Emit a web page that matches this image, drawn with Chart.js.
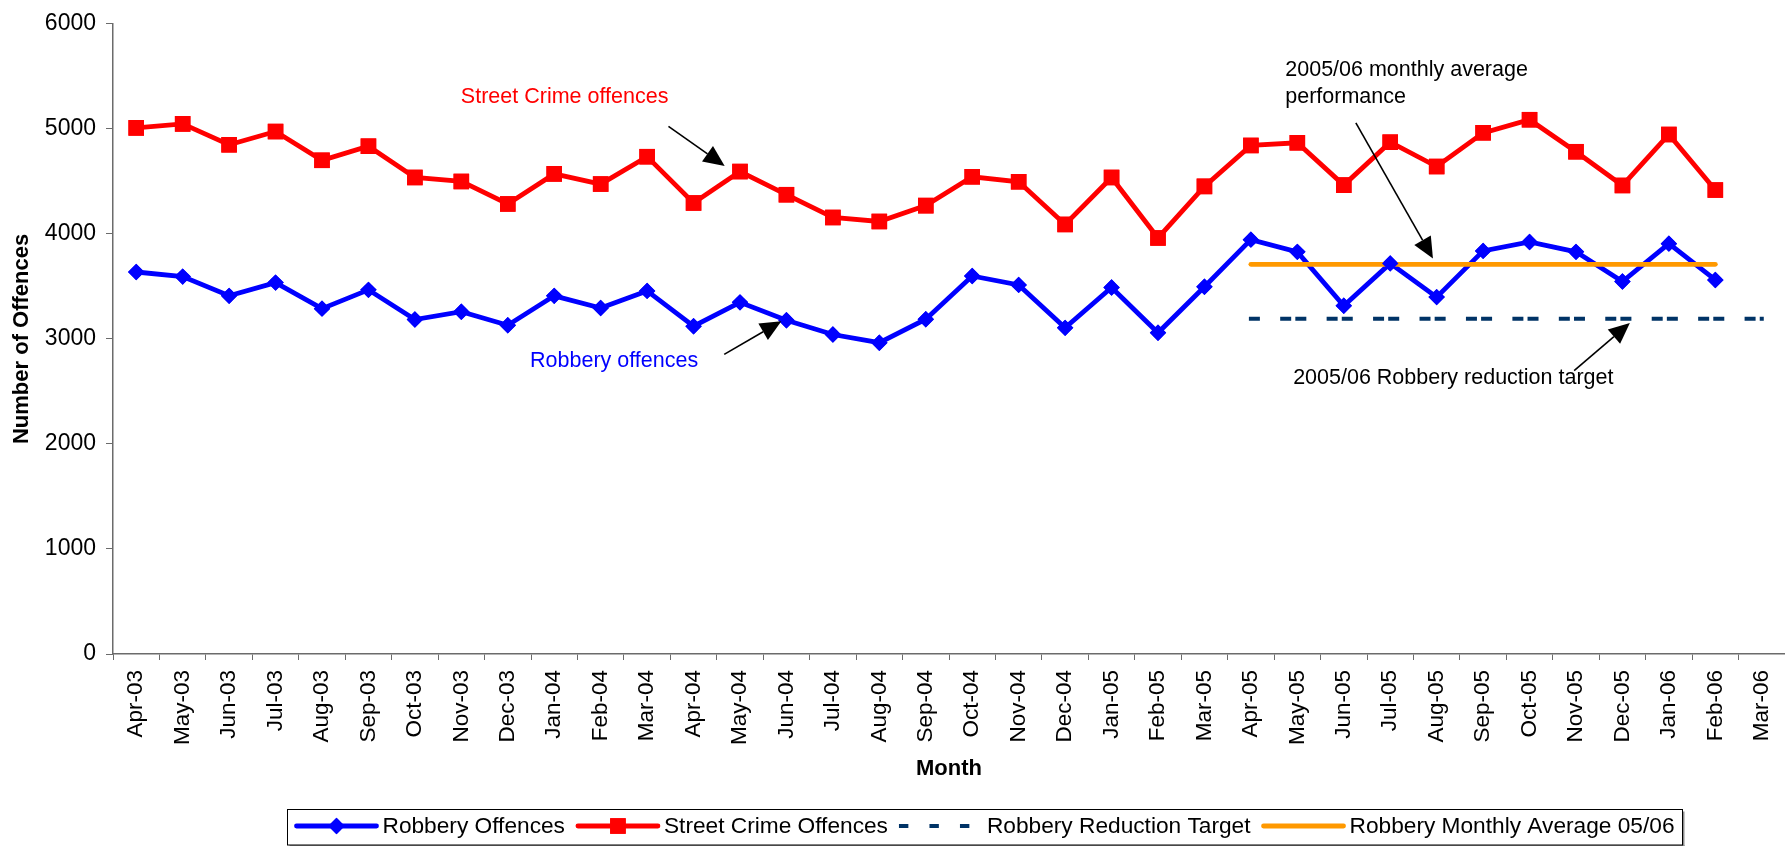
<!DOCTYPE html>
<html>
<head>
<meta charset="utf-8">
<title>Robbery and Street Crime Offences</title>
<script src="https://cdn.jsdelivr.net/npm/chart.js@4.4.0/dist/chart.umd.min.js"></script>
<style>
  html, body { margin: 0; padding: 0; background: #fff; }
  #wrap { width: 1785px; height: 846px; }
</style>
</head>
<body>
<div id="wrap"><canvas id="offencesChart" width="1785" height="846"></canvas></div>
<script>
var months = ['Apr-03','May-03','Jun-03','Jul-03','Aug-03','Sep-03','Oct-03','Nov-03','Dec-03',
  'Jan-04','Feb-04','Mar-04','Apr-04','May-04','Jun-04','Jul-04','Aug-04','Sep-04','Oct-04','Nov-04','Dec-04',
  'Jan-05','Feb-05','Mar-05','Apr-05','May-05','Jun-05','Jul-05','Aug-05','Sep-05','Oct-05','Nov-05','Dec-05',
  'Jan-06','Feb-06','Mar-06'];

var robbery = [3637, 3593, 3410, 3536, 3288, 3467, 3184, 3259, 3130,
  3410, 3294, 3457, 3121, 3348, 3178, 3042, 2964, 3187, 3599, 3514, 3105,
  3489, 3058, 3497, 3945, 3829, 3316, 3719, 3398, 3838, 3923, 3829, 3546,
  3907, 3561, null];

var streetCrime = [5009, 5047, 4848, 4974, 4700, 4835, 4537, 4499, 4285,
  4571, 4474, 4735, 4294, 4593, 4373, 4156, 4118, 4269, 4543, 4496, 4090,
  4537, 3961, 4452, 4842, 4867, 4464, 4873, 4641, 4962, 5087, 4782, 4461,
  4946, 4417, null];

// 2005/06 target runs Apr-05 .. Mar-06, the average Apr-05 .. Feb-06
var reductionTarget = [null, null, null, null, null, null, null, null, null,
  null, null, null, null, null, null, null, null, null, null, null, null,
  null, null, null, 3193, 3193, 3193, 3193, 3193, 3193, 3193, 3193, 3193,
  3193, 3193, 3193];

var monthlyAverage = [null, null, null, null, null, null, null, null, null,
  null, null, null, null, null, null, null, null, null, null, null, null,
  null, null, null, 3710, 3710, 3710, 3710, 3710, 3710, 3710, 3710, 3710,
  3710, 3710, null];

var yTicks = [0, 1000, 2000, 3000, 4000, 5000, 6000];

var FONT = "'Liberation Sans', Arial, sans-serif";
var AXIS = '#6b6b6b';

// callout texts and arrows, placed in data units (category index, value)
var notes = [
  { lines: ['Street Crime offences'], color: '#ff0000', at: [6.99, 5299] },
  { lines: ['Robbery offences'], color: '#0000ff', at: [8.48, 2785] },
  { lines: ['2005/06 monthly average', 'performance'], color: '#000', at: [24.74, 5563] },
  { lines: ['2005/06 Robbery reduction target'], color: '#000', at: [24.91, 2624] }
];
var arrows = [
  { from: [11.46, 5024], to: [12.67, 4647] },
  { from: [12.66, 2853], to: [13.89, 3168] },
  { from: [26.26, 5056], to: [27.92, 3766] },
  { from: [30.96, 2697], to: [32.16, 3152] }
];

Chart.defaults.font.family = FONT;
Chart.defaults.color = '#000';

function drawArrow(ctx, x1, y1, x2, y2) {
  var ang = Math.atan2(y2 - y1, x2 - x1);
  var len = 21, half = 9.5;
  var bx = x2 - Math.cos(ang) * len, by = y2 - Math.sin(ang) * len;
  ctx.strokeStyle = '#000';
  ctx.lineWidth = 1.6;
  ctx.beginPath();
  ctx.moveTo(x1, y1);
  ctx.lineTo(bx, by);
  ctx.stroke();
  ctx.fillStyle = '#000';
  ctx.beginPath();
  ctx.moveTo(x2, y2);
  ctx.lineTo(bx - Math.sin(ang) * half, by + Math.cos(ang) * half);
  ctx.lineTo(bx + Math.sin(ang) * half, by - Math.cos(ang) * half);
  ctx.closePath();
  ctx.fill();
}

var callouts = {
  id: 'callouts',
  afterDatasetsDraw: function(chart) {
    // markers sit above every line
    var ctx = chart.ctx;
    [0, 1].forEach(function(i) {
      chart.getDatasetMeta(i).data.forEach(function(pt) {
        if (!pt.skip) pt.draw(ctx, chart.chartArea);
      });
    });
  },
  afterDraw: function(chart) {
    var ctx = chart.ctx, xs = chart.scales.x, ys = chart.scales.y;
    ctx.save();
    ctx.font = '21.5px ' + FONT;
    ctx.textAlign = 'left';
    ctx.textBaseline = 'middle';
    notes.forEach(function(n) {
      var x = xs.getPixelForValue(n.at[0]), y = ys.getPixelForValue(n.at[1]);
      ctx.fillStyle = n.color;
      n.lines.forEach(function(t, k) { ctx.fillText(t, x, y + k * 27); });
    });
    arrows.forEach(function(a) {
      drawArrow(ctx,
        xs.getPixelForValue(a.from[0]), ys.getPixelForValue(a.from[1]),
        xs.getPixelForValue(a.to[0]), ys.getPixelForValue(a.to[1]));
    });
    ctx.restore();
    drawLegend(chart);
  }
};

// Excel-style legend box along the bottom
function drawLegend(chart) {
  var ctx = chart.ctx;
  var top = 809.5, h = 35.5, left = 287.5, cy = 826, sample = 84;
  ctx.save();
  ctx.font = '22.7px ' + FONT;
  ctx.textBaseline = 'middle';
  ctx.textAlign = 'left';
  var x = left + 7;
  chart.data.datasets.forEach(function(ds) {
    ctx.save();
    ctx.strokeStyle = ds.borderColor;
    ctx.lineWidth = ds.borderWidth;
    ctx.beginPath();
    if (ds.borderDash) {
      ctx.lineCap = 'butt';
      ctx.setLineDash([9.4, 21.1]);
      ctx.moveTo(x, cy);
      ctx.lineTo(x + 72, cy);
    } else {
      ctx.lineCap = 'round';
      ctx.moveTo(x + 2, cy);
      ctx.lineTo(x + sample - 2, cy);
    }
    ctx.stroke();
    ctx.restore();
    if (ds.pointRadius > 0) {
      ctx.fillStyle = ds.borderColor;
      Chart.helpers.drawPoint(ctx, { pointStyle: ds.pointStyle, radius: ds.pointRadius, borderWidth: 0 }, x + sample / 2, cy);
      ctx.fill();
    }
    x += sample + 4;
    ctx.fillStyle = '#000';
    ctx.fillText(ds.label, x, cy + 1);
    x += ctx.measureText(ds.label).width + 11;
  });
  var w = x - 11 + 8 - left;
  ctx.fillStyle = '#8c8c8c';
  ctx.fillRect(left + 2, top + h, w, 2);
  ctx.fillRect(left + w, top + 2, 2, h);
  ctx.strokeStyle = '#000';
  ctx.lineWidth = 1;
  ctx.strokeRect(left, top, w, h);
  ctx.restore();
}

new Chart(document.getElementById('offencesChart'), {
  type: 'line',
  data: {
    labels: months,
    datasets: [{
      label: 'Robbery Offences',
      data: robbery,
      borderColor: '#0000ff',
      backgroundColor: '#0000ff',
      borderWidth: 4.8,
      pointStyle: 'rectRot',
      pointRadius: 8.2,
      pointBorderWidth: 0,
      order: 4
    }, {
      label: 'Street Crime Offences',
      data: streetCrime,
      borderColor: '#ff0000',
      backgroundColor: '#ff0000',
      borderWidth: 4.8,
      pointStyle: 'rect',
      pointRadius: 11,
      pointBorderWidth: 0,
      order: 3
    }, {
      label: 'Robbery Reduction Target',
      data: reductionTarget,
      borderColor: '#003366',
      borderWidth: 4,
      borderDash: [7, 24.3, 7, 8.14],
      borderCapStyle: 'square',
      pointRadius: 0,
      order: 2
    }, {
      label: 'Robbery Monthly Average 05/06',
      data: monthlyAverage,
      borderColor: '#ff9900',
      borderWidth: 4.8,
      borderCapStyle: 'round',
      pointRadius: 0,
      order: 1
    }]
  },
  options: {
    responsive: false,
    animation: false,
    devicePixelRatio: 1,
    spanGaps: false,
    layout: { autoPadding: false, padding: { top: 18, right: 0, bottom: 64, left: 0 } },
    plugins: {
      legend: { display: false },
      tooltip: { enabled: false }
    },
    scales: {
      x: {
        offset: true,
        grid: { display: true, drawOnChartArea: false, offset: true, tickLength: 6, color: AXIS, tickColor: AXIS },
        border: { display: true, color: AXIS, width: 1.5 },
        ticks: { autoSkip: false, minRotation: 90, maxRotation: 90, padding: 10, color: '#000', font: { size: 22.5 } },
        title: { display: true, text: 'Month', color: '#000', font: { size: 22, weight: 'bold' }, padding: { top: 0, bottom: 0 } },
        afterFit: function(scale) {
          scale.height = 128;
          scale.paddingLeft = 0;
          scale.paddingRight = 0;
        }
      },
      y: {
        min: 0,
        max: 6000,
        afterBuildTicks: function(scale) { scale.ticks = yTicks.map(function(v) { return { value: v }; }); },
        grid: { display: true, drawOnChartArea: false, tickLength: 7, color: AXIS, tickColor: AXIS },
        border: { display: true, color: AXIS, width: 1.5 },
        ticks: { padding: 10, color: '#000', font: { size: 23 }, callback: function(v) { return String(v); } },
        title: { display: true, text: 'Number of Offences', color: '#000', font: { size: 22, weight: 'bold' }, padding: { top: 9, bottom: 0 } },
        afterFit: function(scale) { scale.width = 113; }
      }
    }
  },
  plugins: [callouts]
});
</script>
</body>
</html>
